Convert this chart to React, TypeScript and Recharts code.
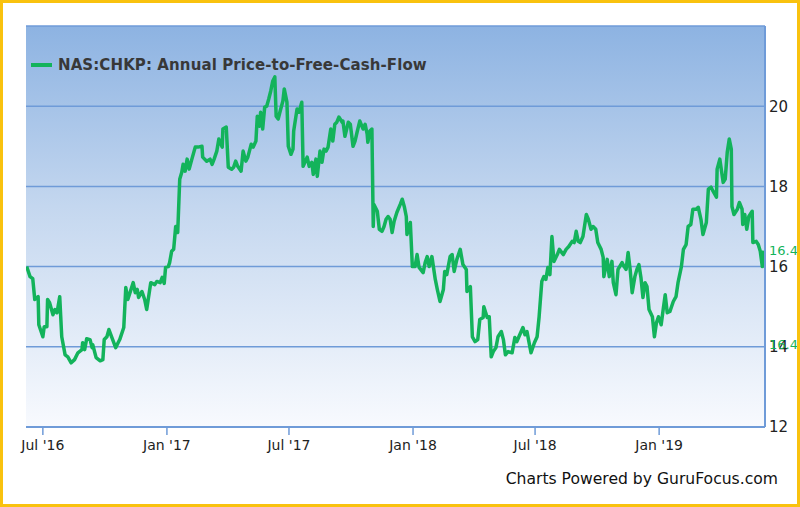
import React from 'react';
import { LineChart, Line, XAxis, YAxis, CartesianGrid, Legend, ReferenceLine } from 'recharts';

// days counted from 2016-06-01
const START = Date.UTC(2016, 5, 1);
const DAY = 86400000;

const SERIES_NAME = 'NAS:CHKP: Annual Price-to-Free-Cash-Flow';

const DAY_OFFSETS = [
  6, 11, 15, 18, 23, 24, 30, 32, 36, 37, 40, 45, 48, 51, 55, 58, 63, 67, 72, 77,
  82, 88, 89, 92, 95, 100, 103, 104, 109, 115, 119, 121, 125, 128, 132, 138, 144, 150, 153, 156,
  164, 167, 170, 172, 177, 181, 184, 190, 196, 199, 204, 207, 210, 212, 216, 218, 221, 224, 227, 230,
  233, 236, 238, 241, 244, 247, 251, 256, 260, 266, 267, 273, 278, 281, 284, 288, 291, 296, 297, 302,
  305, 310, 313, 316, 319, 324, 327, 331, 334, 339, 342, 346, 348, 351, 353, 356, 359, 362, 365, 368,
  371, 374, 376, 379, 382, 386, 388, 392, 394, 398, 401, 402, 407, 410, 414, 416, 422, 425, 429, 431,
  435, 437, 441, 444, 447, 450, 453, 457, 460, 463, 466, 469, 474, 475, 478, 483, 486, 490, 493, 496,
  500, 505, 508, 511, 512, 515, 518, 520, 521, 526, 529, 533, 536, 539, 542, 545, 548, 551, 555, 560,
  563, 566, 569, 570, 575, 578, 582, 585, 588, 594, 597, 600, 603, 607, 612, 615, 619, 624, 626, 629,
  634, 637, 640, 644, 649, 653, 658, 659, 664, 667, 671, 675, 678, 683, 684, 689, 692, 695, 698, 702,
  705, 710, 713, 716, 720, 726, 730, 733, 736, 742, 745, 748, 754, 759, 763, 766, 770, 773, 776, 779,
  782, 785, 788, 793, 796, 802, 806, 810, 815, 818, 821, 824, 827, 831, 836, 839, 843, 846, 850, 853,
  858, 861, 862, 867, 870, 874, 876, 880, 883, 889, 892, 895, 898, 901, 904, 908, 911, 914, 917, 920,
  923, 926, 929, 934, 937, 940, 943, 947, 950, 953, 956, 960, 965, 969, 972, 977, 980, 984, 987, 991,
  994, 999, 1002, 1006, 1009, 1014, 1017, 1021, 1024, 1029, 1030, 1034, 1039, 1042, 1045, 1048, 1051, 1052, 1055, 1060,
  1063, 1067, 1068, 1071, 1074, 1077, 1082, 1083, 1088, 1091, 1094, 1097, 1098,
];

const PFCF = [
  16.0, 15.75, 15.7, 15.18, 15.25, 14.55, 14.25, 14.5, 14.5, 15.18, 15.1, 14.8, 14.93, 14.85, 15.25, 14.25, 13.8, 13.75, 13.6, 13.68,
  13.85, 13.93, 14.1, 13.93, 14.2, 14.18, 13.98, 14.05, 13.73, 13.65, 13.68, 14.18, 14.25, 14.43, 14.25, 13.98, 14.18, 14.48, 15.48, 15.18,
  15.6, 15.35, 15.43, 15.23, 15.38, 15.18, 14.93, 15.6, 15.55, 15.63, 15.6, 15.73, 15.58, 15.98, 16.0, 16.1, 16.38, 16.43, 17.0, 16.85,
  18.18, 18.35, 18.55, 18.38, 18.68, 18.43, 18.68, 18.98, 18.98, 19.0, 18.73, 18.63, 18.68, 18.55, 18.68, 18.88, 19.18, 18.98, 19.43, 19.48,
  18.48, 18.43, 18.48, 18.63, 18.5, 18.38, 18.88, 18.63, 18.73, 19.05, 18.98, 19.13, 19.75, 19.5, 19.85, 19.43, 19.98, 20.0, 20.18, 20.38,
  20.63, 20.73, 19.75, 19.68, 19.88, 20.13, 20.43, 20.1, 19.0, 18.8, 18.93, 19.38, 19.93, 19.85, 20.1, 18.5, 18.73, 18.5, 18.6, 18.3,
  18.68, 18.25, 18.88, 18.6, 18.93, 18.88, 18.98, 19.43, 19.13, 19.55, 19.6, 19.73, 19.6, 19.63, 19.25, 19.6, 19.55, 19.0, 19.13, 19.35,
  19.63, 19.43, 19.55, 19.3, 19.1, 19.38, 19.43, 17.0, 17.55, 17.38, 16.93, 16.88, 17.0, 17.18, 17.25, 17.18, 16.85, 17.13, 17.35, 17.55,
  17.68, 17.5, 17.25, 16.8, 17.1, 16.0, 16.0, 16.3, 15.98, 15.85, 16.1, 16.25, 16.0, 16.25, 15.68, 15.43, 15.13, 15.43, 15.88, 15.8,
  16.25, 16.3, 15.88, 16.18, 16.43, 16.05, 15.93, 15.38, 15.5, 14.25, 14.13, 14.18, 14.68, 14.73, 15.0, 14.73, 14.75, 13.75, 13.88, 13.98,
  14.25, 14.38, 14.18, 13.8, 13.88, 13.85, 14.23, 14.13, 14.25, 14.48, 14.3, 14.38, 13.85, 14.1, 14.25, 14.75, 15.63, 15.75, 15.68, 15.98,
  15.8, 16.75, 16.13, 16.3, 16.43, 16.3, 16.43, 16.5, 16.63, 16.6, 16.88, 16.63, 16.6, 16.75, 17.3, 17.18, 16.93, 17.0, 16.93, 16.6,
  16.43, 16.23, 15.75, 16.18, 15.75, 16.13, 15.6, 15.3, 15.93, 16.1, 16.0, 15.93, 16.35, 15.93, 15.35, 15.75, 15.93, 16.05, 15.73, 15.23,
  15.6, 15.5, 14.93, 14.75, 14.25, 14.6, 14.75, 14.55, 14.93, 15.3, 14.85, 14.88, 15.13, 15.25, 15.6, 16.0, 16.43, 16.55, 17.0, 17.05,
  17.43, 17.43, 17.48, 17.18, 16.8, 17.1, 17.93, 17.98, 17.88, 17.73, 18.43, 18.68, 18.1, 18.18, 18.85, 19.18, 18.93, 17.5, 17.3, 17.43,
  17.6, 17.43, 17.05, 17.3, 16.93, 17.25, 17.38, 16.6, 16.63, 16.55, 16.38, 16.0, 16.4,
];

const X_RANGE = ['2016-06-06', '2019-06-07'];
const TICK_DATES = ['2016-07-01', '2017-01-01', '2017-07-01', '2018-01-01', '2018-07-01', '2019-01-01'];
const TICK_LABELS = ["Jul '16", "Jan '17", "Jul '17", "Jan '18", "Jul '18", "Jan '19"];
const Y_TICKS = [12, 14, 16, 18, 20];
const Y_DOMAIN = [12, 22];

// the last value is printed twice at the right edge in the original
const LAST_LABEL = '16.4';
const LAST_LABEL_LEVELS = [16.4, 14.05];

const GREEN = '#13b35b';
const BLUE = '#6f9bd8';

const data = DAY_OFFSETS.map((d, i) => ({ t: START + d * DAY, v: PFCF[i] }));
const tickTimes = TICK_DATES.map(s => Date.parse(s));
const labelFor = (t: number) => TICK_LABELS[tickTimes.indexOf(t)] ?? '';

const LegendBox = ({ payload }: any) => (
  <div style={{ display: 'flex', alignItems: 'center', fontFamily: 'DejaVu Sans', fontSize: 15, fontWeight: 'bold', color: '#383838', letterSpacing: 0.1, whiteSpace: 'nowrap' }}>
    <span style={{ display: 'inline-block', width: 21, height: 4, background: GREEN, marginRight: 6 }} />
    {payload?.[0]?.value ?? SERIES_NAME}
  </div>
);

const App: React.FC = () => {
  return (
    <div style={{ position: 'fixed', left: 0, top: 0, width: 800, height: 507, background: '#fff' }}>
      {/* plot background */}
      <div
        style={{
          position: 'absolute', left: 26, top: 26, width: 739, height: 401,
          background: 'linear-gradient(to bottom, #8db3e2 0%, #c4d7ef 45%, #f8fafe 100%)',
        }}
      />
      <div style={{ position: 'absolute', left: 0, top: 0 }}>
        <LineChart width={800} height={507} data={data} margin={{ top: 26, right: 5, bottom: 50, left: 26 }}>
          <CartesianGrid horizontal vertical={false} stroke={BLUE} strokeWidth={1.5} />
          <XAxis
            dataKey="t"
            type="number"
            scale="time"
            domain={X_RANGE.map(s => Date.parse(s))}
            ticks={tickTimes}
            tickFormatter={labelFor}
            height={30}
            stroke={BLUE}
            axisLine={{ stroke: BLUE, strokeWidth: 2 }}
            tickLine={{ stroke: BLUE, strokeWidth: 1.5 }}
            tickSize={8}
            tickMargin={5}
            tick={{ fill: '#222', fontSize: 14, fontFamily: 'DejaVu Sans' }}
            allowDataOverflow
          />
          <YAxis
            orientation="right"
            domain={Y_DOMAIN}
            ticks={Y_TICKS}
            width={30}
            axisLine={{ stroke: BLUE, strokeWidth: 2 }}
            tickLine={false}
            tickSize={0}
            tickMargin={4}
            tick={{ fill: '#222', fontSize: 15, fontFamily: 'DejaVu Sans' }}
          />
          <YAxis yAxisId="left" orientation="left" domain={Y_DOMAIN} width={0} tick={false} axisLine={{ stroke: '#9dbbe6', strokeWidth: 2 }} />
          {LAST_LABEL_LEVELS.map(level => (
            <ReferenceLine
              key={level}
              y={level}
              stroke="none"
              label={{ value: LAST_LABEL, position: 'right', fill: GREEN, fontSize: 13, fontFamily: 'DejaVu Sans', offset: 4 }}
            />
          ))}
          <Legend
            layout="vertical"
            align="center"
            verticalAlign="middle"
            content={<LegendBox />}
            wrapperStyle={{ left: 31, top: 56, width: 'auto' }}
          />
          <Line
            type="linear"
            dataKey="v"
            name={SERIES_NAME}
            stroke={GREEN}
            strokeWidth={3.5}
            strokeLinejoin="round"
            dot={false}
            isAnimationActive={false}
          />
        </LineChart>
      </div>
      <div style={{ position: 'absolute', right: 22, top: 470, fontFamily: 'DejaVu Sans', fontSize: 15.6, color: '#111' }}>
        Charts Powered by GuruFocus.com
      </div>
      <div style={{ position: 'absolute', left: 0, top: 0, width: 800, height: 507, boxSizing: 'border-box', border: '3px solid #f9c20f', pointerEvents: 'none' }} />
    </div>
  );
};

export default App;
